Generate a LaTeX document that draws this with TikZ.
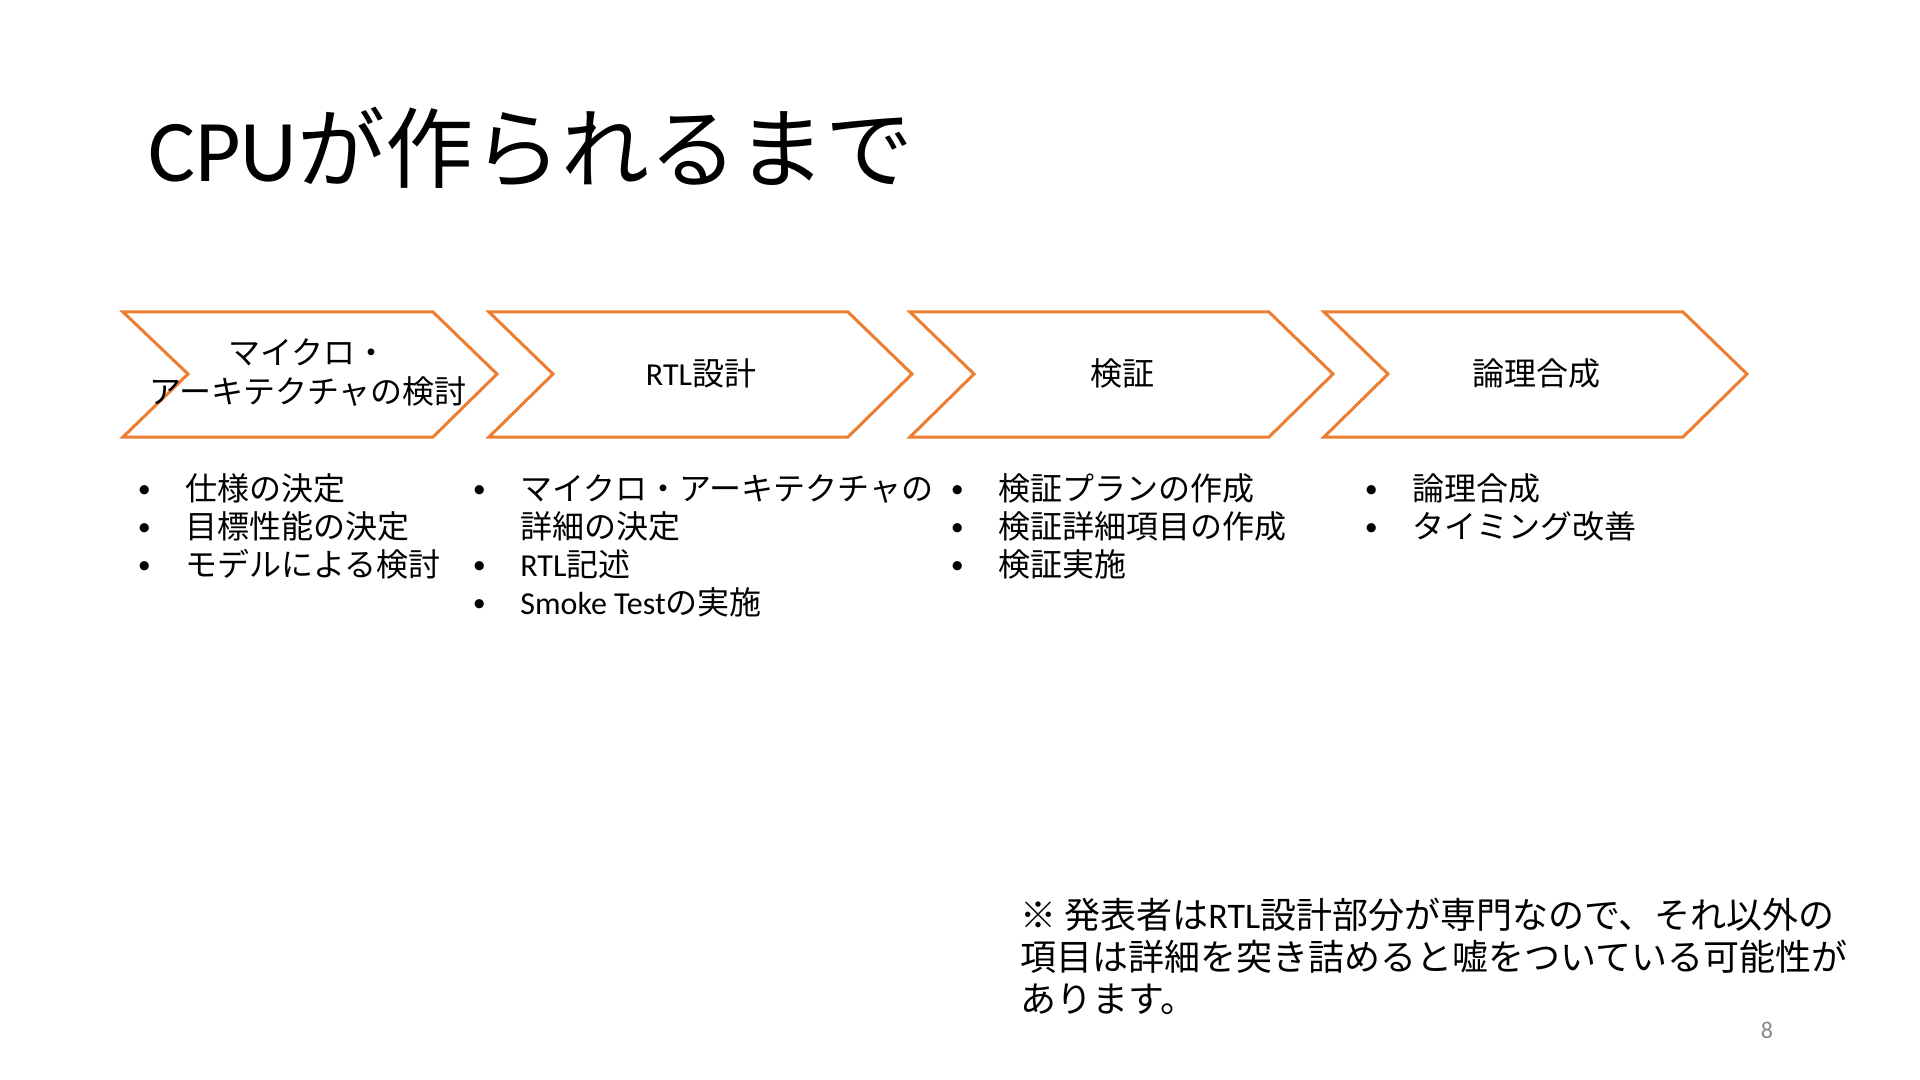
\documentclass[tikz,border=0pt]{standalone}
\usepackage{fontspec}
\setmainfont{Noto Sans CJK JP}
\newfontfamily\lat{Carlito}
\definecolor{chevorange}{HTML}{ED7D31}
\definecolor{pagegray}{HTML}{898989}
\newcommand{\bul}{\llap{\makebox[41pt]{\raisebox{1.2pt}{\lat\fontsize{13}{13}\selectfont •}}}}

\begin{document}
\begin{tikzpicture}[x=0.5pt, y=-0.5pt,
  chev/.style={draw=chevorange, line width=1.5pt, fill=white},
  lbl/.style={inner sep=0pt, align=center, font=\fontsize{16}{19.5}\selectfont},
  item/.style={anchor=base west, inner sep=0pt, font=\fontsize{16}{18.5}\selectfont},
  note/.style={anchor=base west, inner sep=0pt, font=\fontsize{18}{20.5}\selectfont}]
\useasboundingbox (0,0) rectangle (1920,1080);

% title
\node[anchor=base west, inner sep=0pt, font=\fontsize{44}{52}\selectfont] (title) at (148,182) {{\lat CPU}が作られるまで};

% process chevrons
\draw[chev] (123,312) -- (433,312) -- (497,374) -- (433,437) -- (123,437) -- (188,374) -- cycle;
\draw[chev] (489,312) -- (848,312) -- (912,374) -- (848,437) -- (489,437) -- (553,374) -- cycle;
\draw[chev] (910,312) -- (1269,312) -- (1333,374) -- (1269,437) -- (910,437) -- (974,374) -- cycle;
\draw[chev] (1324,312) -- (1683,312) -- (1747,374) -- (1683,437) -- (1324,437) -- (1388,374) -- cycle;

\node[lbl] (arch) at (308,373) {マイクロ・\\アーキテクチャの検討};
\node[lbl] (rtl) at (701,373) {{\lat RTL}設計};
\node[lbl] (verif) at (1122,373) {検証};
\node[lbl] (synth) at (1536,373) {論理合成};

% tasks under each step
\node[item] (arch1) at (185,500) {\bul 仕様の決定};
\node[item] (arch2) at (185,538) {\bul 目標性能の決定};
\node[item] (arch3) at (185,576) {\bul モデルによる検討};

\node[item] (rtl1) at (520,500) {\bul マイクロ・アーキテクチャの};
\node[item] (rtl1b) at (520,538) {詳細の決定};
\node[item] (rtl2) at (520,576) {\bul{\lat RTL}記述};
\node[item] (rtl3) at (520,614) {\bul{\lat Smoke Test}の実施};

\node[item] (verif1) at (998,500) {\bul 検証プランの作成};
\node[item] (verif2) at (998,538) {\bul 検証詳細項目の作成};
\node[item] (verif3) at (998,576) {\bul 検証実施};

\node[item] (synth1) at (1412,500) {\bul 論理合成};
\node[item] (synth2) at (1412,538) {\bul タイミング改善};

% note
\node[note] (note1) at (1020,928) {※ 発表者は{\lat RTL}設計部分が専門なので、それ以外の};
\node[note] (note2) at (1020,970) {項目は詳細を突き詰めると嘘をついている可能性が};
\node[note] (note3) at (1020,1012) {あります。};

\node[anchor=base, inner sep=0pt, text=pagegray, font=\lat\fontsize{12}{14}\selectfont] (pnum) at (1767,1038) {8};
\end{tikzpicture}
\end{document}
